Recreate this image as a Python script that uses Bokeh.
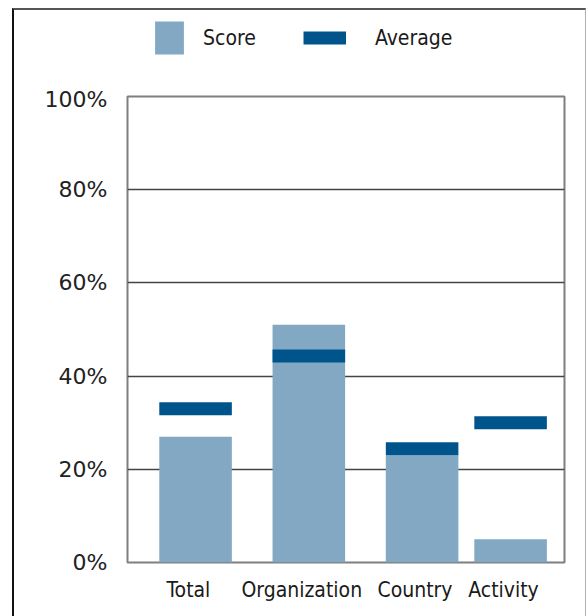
from bokeh.plotting import figure
from bokeh.layouts import column
from bokeh.models import (ColumnDataSource, FactorRange, Range1d, FixedTicker,
                          PrintfTickFormatter, Legend, LegendItem)
from bokeh.transform import dodge
from bokeh.embed import file_html
from bokeh.resources import INLINE

# ---- data ----
groups = ["a", "b", "c", "c"]
categories = ["Total", "Organization", "Country", "Activity"]
score = [27, 51, 23, 5]
average = [33, 44.3, 24.4, 30]
y_ticks = [0, 20, 40, 60, 80, 100]

BAR = "#82A8C4"
AVG = "#00548C"
LABEL_FONT = "DejaVu Sans Condensed"

factors = list(zip(groups, categories))
src = ColumnDataSource(dict(x=factors, score=score, avg=average))

xr = FactorRange(factors=factors, group_padding=0.28, factor_padding=0.0,
                 range_padding=0.083)


def add_marks(fig):
    rb = fig.vbar(x=dodge("x", 0.08, range=xr), top="score", bottom=0, width=0.82,
                  source=src, fill_color=BAR, line_color=None)
    ra = fig.segment(x0=dodge("x", 0.08 - 0.41, range=xr),
                     x1=dodge("x", 0.08 + 0.41, range=xr),
                     y0="avg", y1="avg", source=src, line_color=AVG, line_width=13,
                     line_cap="butt")
    return rb, ra


# ---- main chart ----
p = figure(x_range=xr, y_range=Range1d(0, 100), width=571, height=530,
           output_backend="svg", toolbar_location=None,
           min_border_left=113, min_border_right=21, min_border_top=10,
           min_border_bottom=54)
add_marks(p)

p.yaxis.ticker = FixedTicker(ticks=y_ticks)
p.yaxis.formatter = PrintfTickFormatter(format="%d%%")
p.yaxis.axis_line_color = None
p.yaxis.major_tick_line_color = None
p.yaxis.minor_tick_line_color = None
p.yaxis.major_label_standoff = 14
p.yaxis.major_label_text_font = "DejaVu Sans"
p.yaxis.major_label_text_font_size = "22px"
p.yaxis.major_label_text_color = "#222222"

p.xaxis.axis_line_color = None
p.xaxis.major_tick_line_color = None
p.xaxis.minor_tick_line_color = None
p.xaxis.major_label_standoff = 9
p.xaxis.major_label_text_font = LABEL_FONT
p.xaxis.major_label_text_font_size = "21px"
p.xaxis.major_label_text_color = "#1a1a1a"
p.xaxis.group_text_font_size = "0px"
p.xaxis.group_text_color = None
p.xaxis.separator_line_color = None

p.xgrid.grid_line_color = None
p.ygrid.grid_line_color = "#444444"
p.ygrid.grid_line_width = 1.5
p.outline_line_color = "#7f7f7f"
p.outline_line_width = 2

# ---- legend strip (its marks sit outside its own y range; only the legend shows) ----
lf = figure(x_range=xr, y_range=Range1d(1000, 1001), width=571, height=76,
            output_backend="svg", toolbar_location=None,
            x_axis_location=None, y_axis_location=None,
            min_border_left=0, min_border_right=0, min_border_top=0,
            min_border_bottom=0)
lf.xgrid.grid_line_color = None
lf.ygrid.grid_line_color = None
lf.outline_line_color = None
lb, la = add_marks(lf)


def make_legend(label, rend, gw, loc, standoff):
    lg = Legend(items=[LegendItem(label=label, renderers=[rend])],
                location=loc, glyph_width=gw, glyph_height=41,
                label_standoff=standoff, padding=0, margin=0,
                border_line_color=None, background_fill_alpha=0,
                label_text_font=LABEL_FONT, label_text_font_size="21px",
                label_text_color="#1a1a1a")
    lf.add_layout(lg)


make_legend("Score", lb, 36, (24, 28), 16)
make_legend("Average", la, 43, (176, 28), 29)

layout = column(lf, p, spacing=0,
                styles={"margin-left": "12px", "margin-top": "8px",
                        "border-left": "2px solid #111111",
                        "border-top": "2px solid #555555",
                        "border-right": "1px solid #b0b0b0"})

open("out.html", "w").write(file_html(layout, INLINE))
